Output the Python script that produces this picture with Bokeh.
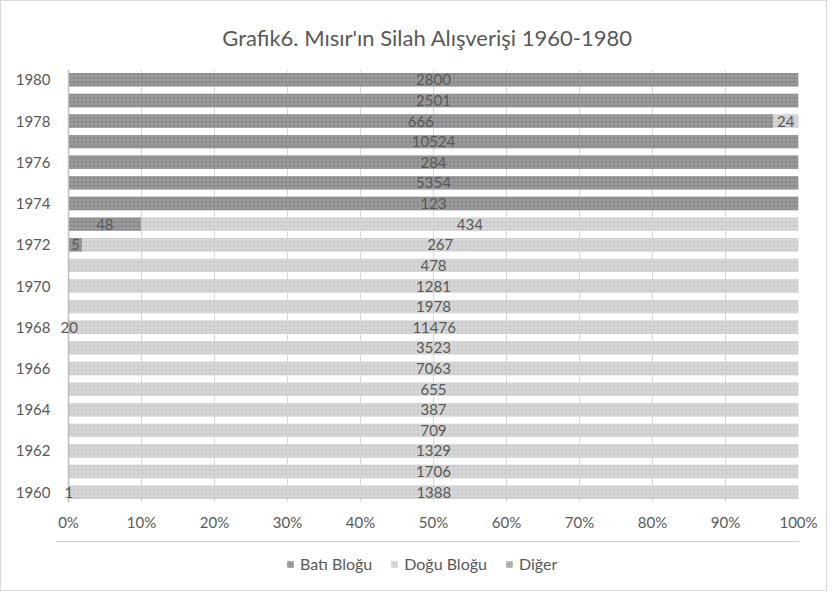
import numpy as np
from bokeh.plotting import figure
from bokeh.layouts import column
from bokeh.models import (ColumnDataSource, Legend, LegendItem, FixedTicker,
                          NumeralTickFormatter, Range1d, LabelSet, Span)
from bokeh.core.properties import value
from bokeh.embed import file_html
from bokeh.resources import INLINE

years = [1960, 1961, 1962, 1963, 1964, 1965, 1966, 1967, 1968, 1969, 1970,
         1971, 1972, 1973, 1974, 1975, 1976, 1977, 1978, 1979, 1980]
bati = [1, 0, 0, 0, 0, 0, 0, 0, 20, 0, 0,
        0, 5, 48, 123, 5354, 284, 10524, 666, 2501, 2800]
dogu = [1388, 1706, 1329, 709, 387, 655, 7063, 3523, 11476, 1978, 1281,
        478, 267, 434, 0, 0, 0, 0, 24, 0, 0]
diger = [0] * 21
series_names = ["Batı Bloğu", "Doğu Bloğu", "Diğer"]
x_ticks = [0, 0.1, 0.2, 0.3, 0.4, 0.5, 0.6, 0.7, 0.8, 0.9, 1.0]
y_ticks = years[::2]

FONT = "Lato"
TXT = "#595959"
COLORS = ["#898989", "#cbcbcb", "#a3a3a3"]
HATCH = ["#a4a4a4", "#dedede", "#b8b8b8"]
STACK = ["bati", "dogu", "diger"]

b = np.array(bati, float)
d = np.array(dogu, float)
g = np.array(diger, float)
tot = b + d + g
fb, fd, fg = b / tot, d / tot, g / tot
src = ColumnDataSource(dict(year=years, bati=fb, dogu=fd, diger=fg))

# small left pad (12px of 728px) so labels at 0% are not clipped
p = figure(width=825, height=540, output_backend="svg", toolbar_location=None,
           x_range=Range1d(-12 / 728, 1), y_range=Range1d(1959.5, 1980.5),
           title="Grafik6. Mısır'ın Silah Alışverişi 1960-1980",
           min_border_left=55, min_border_right=28, min_border_top=68,
           min_border_bottom=39)

rs = p.hbar_stack(STACK, y="year", height=0.65, source=src,
                  fill_color=COLORS, line_color=None,
                  hatch_pattern="cross", hatch_scale=4, hatch_weight=1,
                  hatch_color=HATCH, hatch_alpha=0.9)

p.add_layout(Span(location=0, dimension="height", line_color="#bfbfbf", line_width=1.5))

# data labels (centered in each non-zero segment)
lx, ly, lt = [], [], []
for i, yr in enumerate(years):
    start = 0.0
    for frac, raw in ((fb[i], bati[i]), (fd[i], dogu[i]), (fg[i], diger[i])):
        if raw != 0:
            lx.append(start + frac / 2)
            ly.append(yr)
            lt.append(str(raw))
        start += frac
lsrc = ColumnDataSource(dict(x=lx, y=ly, t=lt))
labels = LabelSet(x="x", y="y", text="t", source=lsrc, text_align="center",
                  text_baseline="middle", text_font=value(FONT),
                  text_font_size="15px", text_color=TXT)
p.add_layout(labels)

p.title.align = "center"
p.title.text_font = FONT
p.title.text_font_size = "22px"
p.title.text_font_style = "normal"
p.title.text_color = TXT
p.title.standoff = 38

p.xaxis.ticker = FixedTicker(ticks=x_ticks)
p.xaxis.formatter = NumeralTickFormatter(format="0%")
p.yaxis.ticker = FixedTicker(ticks=y_ticks)
for ax in (p.xaxis, p.yaxis):
    ax.major_tick_line_color = None
    ax.minor_tick_line_color = None
    ax.major_label_text_font = FONT
    ax.major_label_text_font_size = "15px"
    ax.major_label_text_color = TXT
p.xaxis.axis_line_color = None
p.xaxis.major_label_standoff = 4
p.yaxis.axis_line_color = None
p.yaxis.major_label_standoff = 0
p.ygrid.visible = False
p.xgrid.grid_line_color = "#d9d9d9"
p.outline_line_color = None

# legend strip below the chart (its bars lie outside its view)
pl = figure(width=825, height=49, output_backend="svg", toolbar_location=None,
            x_range=Range1d(0, 1), y_range=Range1d(0, 1),
            min_border=0, min_border_left=0, min_border_right=0,
            min_border_top=0, min_border_bottom=0)
pl.axis.visible = False
pl.grid.visible = False
pl.outline_line_color = None
lrs = pl.hbar_stack(STACK, y="year", height=0.65, source=src,
                    fill_color=COLORS, line_color=None,
                    hatch_pattern="cross", hatch_scale=3, hatch_weight=1,
                    hatch_color=HATCH, hatch_alpha=0.9)
legend = Legend(items=[LegendItem(label=n, renderers=[r]) for n, r in zip(series_names, lrs)],
                orientation="horizontal", location=(230, 17),
                label_text_font=FONT, label_text_font_size="16px", label_text_color=TXT,
                glyph_width=8, glyph_height=8, spacing=18, label_standoff=6,
                border_line_color=None, background_fill_alpha=0, padding=4, margin=0)
pl.add_layout(legend)

layout = column(p, pl, spacing=0, styles={"border": "1px solid #d9d9d9"})
open("out.html", "w").write(file_html(layout, INLINE))
